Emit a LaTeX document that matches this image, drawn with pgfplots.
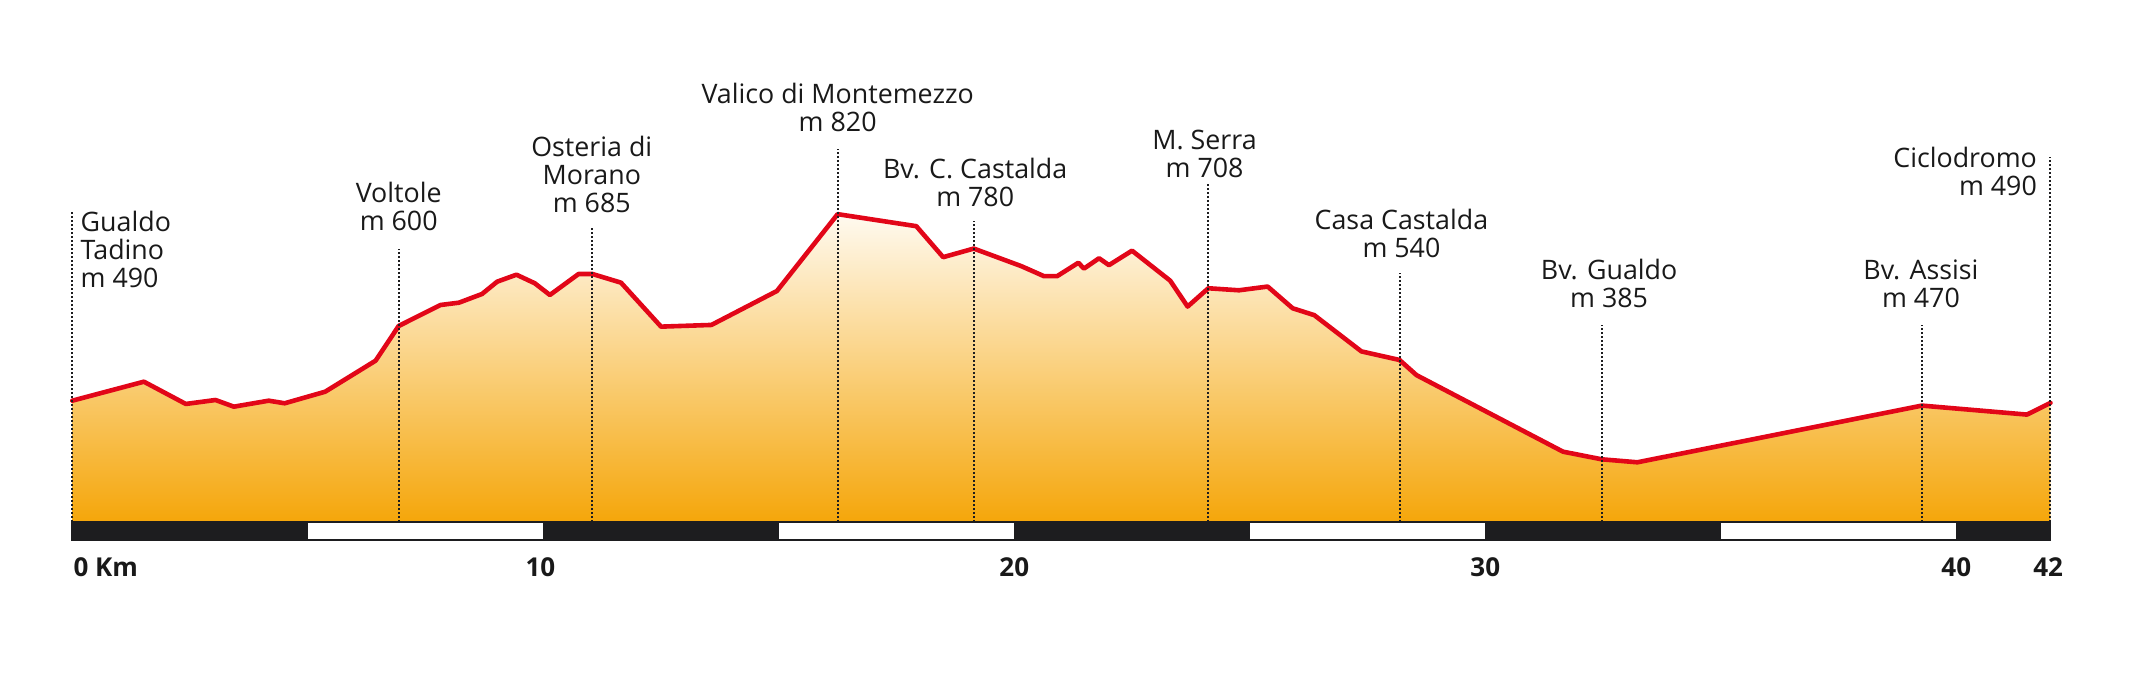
\documentclass[border=0pt]{standalone}
\usepackage{pgfplots}
\pgfplotsset{compat=1.18}
\usepackage{pgfplotstable}
\usepackage{fontspec}
\setmainfont{Open Sans}
\definecolor{profred}{RGB}{226,6,24}
\definecolor{fillbot}{RGB}{245,166,10}
\definecolor{filltop}{RGB}{255,250,240}
\definecolor{barblack}{RGB}{29,29,31}
\definecolor{txt}{RGB}{25,25,25}

\pgfplotstableread{
km elev
0.00 490
1.52 523.6
2.41 484.2
3.04 491.2
3.43 479.4
4.17 490
4.51 485.4
5.37 505.9
6.44 560.8
6.93 622.2
7.82 659.3
8.21 663.4
8.70 678.8
9.02 700.5
9.43 712.9
9.82 697.7
10.14 677
10.75 714.2
11.04 714.2
11.65 698.8
12.50 621
13.57 624
14.96 684
16.25 820
17.92 798.7
18.49 743.9
19.14 759.1
20.15 728
20.63 710.3
20.91 710.3
21.36 734
21.48 723.7
21.80 742
22.01 729.8
22.50 755.4
23.31 702.3
23.68 656.5
24.12 688.9
24.77 685.3
25.38 691.9
25.91 653.5
26.37 641.3
27.37 577.2
28.18 562
28.54 535.2
31.65 399.8
32.47 386.3
33.23 381
39.27 481.3
41.50 465.4
42.00 486
}\profile

\begin{document}
\begin{tikzpicture}
\begin{axis}[scale only axis, width=1069.5pt, height=341pt,
  xmin=-1.535, xmax=43.88, ymin=-7.7, ymax=1198.9,
  hide axis, clip=false]
\path (rel axis cs:0,0) rectangle (rel axis cs:1,1);
% filled profile
\addplot[draw=none, top color=filltop, bottom color=fillbot]
  table[x=km,y=elev]{\profile} |- (axis cs:0,275) -- cycle;
% red profile line
\addplot[profred, line width=2.3pt, line join=round, line cap=round]
  table[x=km,y=elev]{\profile};
% dotted markers
\pgfplotsset{dotm/.style={barblack, line width=1pt, dash pattern=on 1pt off 1pt}}
\addplot[dotm] coordinates {(0,275) (0,824.4)};
\addplot[dotm] coordinates {(6.93,275) (6.93,757.9)};
\addplot[dotm] coordinates {(11.04,275) (11.04,795)};
\addplot[dotm] coordinates {(16.25,275) (16.25,935.3)};
\addplot[dotm] coordinates {(19.14,275) (19.14,808)};
\addplot[dotm] coordinates {(24.12,275) (24.12,876.2)};
\addplot[dotm] coordinates {(28.18,275) (28.18,715.8)};
\addplot[dotm] coordinates {(32.47,275) (32.47,624.5)};
\addplot[dotm] coordinates {(39.27,275) (39.27,624.5)};
\addplot[dotm] coordinates {(42,275) (42,920.6)};
% scale bar
\addplot[draw=barblack, line width=1pt, fill=white] coordinates {(0,243.6) (42,243.6) (42,275) (0,275)} -- cycle;
\addplot[draw=barblack, line width=0.5pt, fill=barblack] coordinates {(0,243.6) (5,243.6) (5,275) (0,275)} -- cycle;
\addplot[draw=barblack, line width=0.5pt, fill=barblack] coordinates {(10,243.6) (15,243.6) (15,275) (10,275)} -- cycle;
\addplot[draw=barblack, line width=0.5pt, fill=barblack] coordinates {(20,243.6) (25,243.6) (25,275) (20,275)} -- cycle;
\addplot[draw=barblack, line width=0.5pt, fill=barblack] coordinates {(30,243.6) (35,243.6) (35,275) (30,275)} -- cycle;
\addplot[draw=barblack, line width=0.5pt, fill=barblack] coordinates {(40,243.6) (42,243.6) (42,275) (40,275)} -- cycle;
% labels
\tikzset{lab/.style={text=txt, inner sep=0pt, font=\fontsize{13.4}{14}\selectfont}}
\node[lab, anchor=south west, align=left] at (axis cs:0.17,689) {Gualdo\\Tadino\\m 490};
\node[lab, anchor=south, align=center] at (axis cs:6.93,790.2) {Voltole\\m 600};
\node[lab, anchor=south, align=center] at (axis cs:11.03,821.6) {Osteria di\\Morano\\m 685};
\node[lab, anchor=south, align=center] at (axis cs:16.25,964.7) {Valico di Montemezzo\\m 820};
\node[lab, anchor=south, align=center] at (axis cs:19.17,832.4) {Bv. C. Castalda\\m 780};
\node[lab, anchor=south, align=center] at (axis cs:24.04,882.8) {M. Serra\\m 708};
\node[lab, anchor=south, align=center] at (axis cs:28.22,742.5) {Casa Castalda\\m 540};
\node[lab, anchor=south, align=center] at (axis cs:32.63,653.5) {Bv. Gualdo\\m 385};
\node[lab, anchor=south, align=center] at (axis cs:39.25,653.5) {Bv. Assisi\\m 470};
\node[lab, anchor=south east, align=right] at (axis cs:41.72,852) {Ciclodromo\\m 490};
% km labels
\tikzset{kml/.style={text=txt, inner sep=0pt, font=\bfseries\fontsize{13}{13}\selectfont}}
\node[kml, anchor=base west] at (axis cs:0.02,179.8) {0 Km};
\node[kml, anchor=base] at (axis cs:9.94,179.8) {10};
\node[kml, anchor=base] at (axis cs:20,179.8) {20};
\node[kml, anchor=base] at (axis cs:30,179.8) {30};
\node[kml, anchor=base] at (axis cs:40,179.8) {40};
\node[kml, anchor=base] at (axis cs:41.95,179.8) {42};
\end{axis}
\end{tikzpicture}
\end{document}
